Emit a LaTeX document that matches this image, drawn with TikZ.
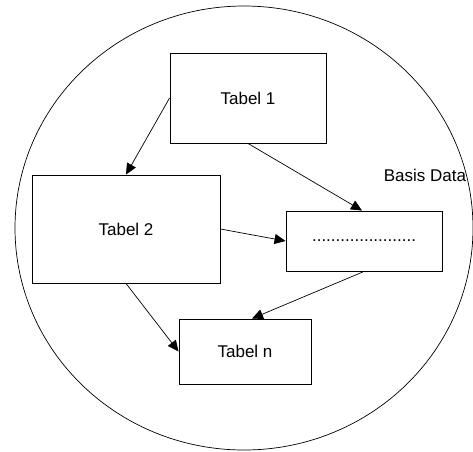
\documentclass[tikz,border=0pt]{standalone}
\usepackage{fontspec}
\setmainfont{Liberation Sans}
\usetikzlibrary{arrows.meta}
\begin{document}
\begin{tikzpicture}[x=1pt,y=-1pt,
  tbl/.style={draw, line width=0.9pt, rectangle, inner sep=0pt, font=\fontsize{17}{20}\selectfont},
  conn/.style={line width=0.7pt, -{Triangle[length=11pt,width=10pt]}}]
\useasboundingbox (0,0) rectangle (473,451);
\draw[line width=0.7pt] (244,228) ellipse [x radius=229, y radius=222];
\node[tbl, minimum width=156pt, minimum height=90pt] (t1) at (248,98) {Tabel 1};
\node[tbl, minimum width=188pt, minimum height=108pt] (t2) at (126,229) {Tabel 2};
\node[tbl, minimum width=156pt, minimum height=60pt] (d) at (364,241) {......................};
\node[tbl, minimum width=132pt, minimum height=65pt] (tn) at (245,351.5) {Tabel n};
\node[font=\fontsize{17}{20}\selectfont, inner sep=0pt] (bd) at (425,175) {Basis Data};
\draw[conn] (t1.west) -- (t2.north);
\draw[conn] (t1.south) -- ([xshift=-2pt]d.north);
\draw[conn] (t2.east) -- (d.west);
\draw[conn] (t2.south) -- (tn.west);
\draw[conn] (d.south) -- ([xshift=7pt]tn.north);
\end{tikzpicture}
\end{document}
